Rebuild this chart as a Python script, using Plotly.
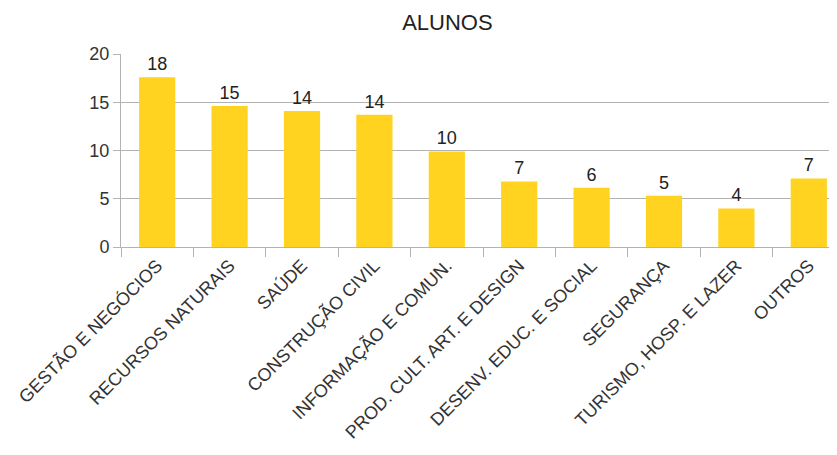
import plotly.graph_objects as go

categories = ["GESTÃO E NEGÓCIOS", "RECURSOS NATURAIS", "SAÚDE", "CONSTRUÇÃO CIVIL",
              "INFORMAÇÃO E COMUN.", "PROD. CULT. ART. E DESIGN", "DESENV. EDUC. E SOCIAL",
              "SEGURANÇA", "TURISMO, HOSP. E LAZER", "OUTROS"]
values = [17.6, 14.6, 14.1, 13.7, 9.9, 6.8, 6.15, 5.3, 4.0, 7.1]
y_ticks = [0, 5, 10, 15, 20]

fig = go.Figure(go.Bar(
    x=categories, y=values,
    marker=dict(color="#FFD320", line=dict(width=0)),
    texttemplate="%{y:.0f}", textposition="outside", cliponaxis=False,
    textfont=dict(family="Liberation Sans", size=18, color="#222222"),
))

fig.update_layout(
    width=837, height=455,
    margin=dict(l=113, r=0, t=46, b=216),
    paper_bgcolor="white", plot_bgcolor="white",
    bargap=0.5, showlegend=False,
    font=dict(family="Liberation Sans", size=18, color="#333333"),
    title=dict(text="ALUNOS", x=0.525, xanchor="center", y=0.969, yanchor="middle",
               font=dict(family="Liberation Sans", size=22, color="#222222")),
)
fig.update_xaxes(
    tickangle=-45, tickson="boundaries", ticks="outside", ticklen=9,
    tickcolor="#b3b3b3", showline=True, linecolor="#b3b3b3",
    tickfont=dict(size=18, color="#333333"),
)
fig.update_yaxes(
    range=[0, 20], tickvals=y_ticks, ticks="outside", ticklen=7, tickcolor="#b3b3b3",
    showgrid=True, gridcolor="#b3b3b3", zeroline=False,
    showline=True, linecolor="#b3b3b3", tickfont=dict(size=18, color="#333333"),
)

fig.write_html("out.html")
